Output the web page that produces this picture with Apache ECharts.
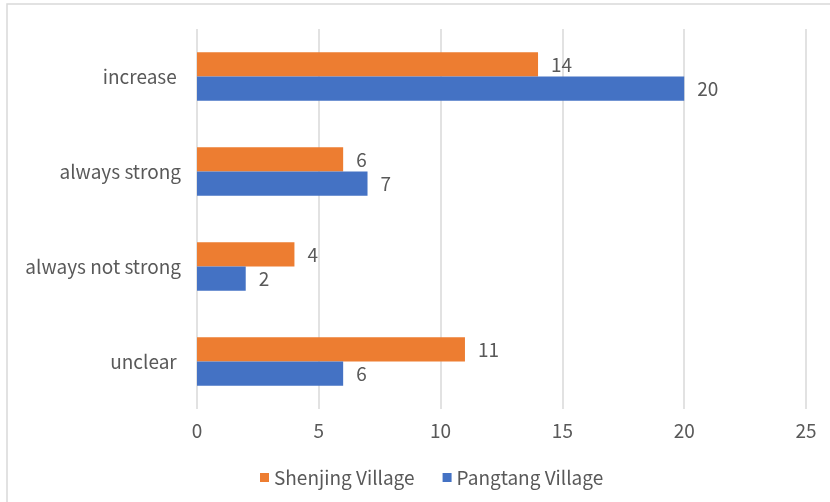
<!DOCTYPE html>
<html>
<head>
<meta charset="utf-8">
<script src="https://cdn.jsdelivr.net/npm/echarts@6/dist/echarts.min.js"></script>
<style>
  html, body { margin: 0; padding: 0; background: #fff; }
  #chart { width: 830px; height: 502px; }
</style>
</head>
<body>
<div id="chart"></div>
<script>
const categories = ['increase ', 'always strong', 'always not strong', 'unclear '];
const shenjing = [14, 6, 4, 11];
const pangtang = [20, 7, 2, 6];
const xTicks = { min: 0, max: 25, interval: 5 };

const FONT = '"Noto Sans CJK SC", "Noto Sans", sans-serif';
const TEXT = '#595959';
const SIZE = 19;

const chart = echarts.init(document.getElementById('chart'), null, { renderer: 'canvas' });
chart.setOption({
  animation: false,
  backgroundColor: '#fff',
  textStyle: { fontFamily: FONT },
  graphic: [{
    type: 'rect',
    shape: { x: 7, y: 4, width: 840, height: 520 },
    style: { fill: 'none', stroke: '#d9d9d9', lineWidth: 1.5 },
    silent: true
  }],
  legend: {
    left: 255,
    top: 463,
    itemWidth: 9,
    itemHeight: 9,
    itemGap: 28,
    icon: 'rect',
    textStyle: { color: TEXT, fontSize: SIZE, fontFamily: FONT },
    data: ['Shenjing Village', 'Pangtang Village']
  },
  grid: { left: 197, right: 24, top: 29, bottom: 93, containLabel: false },
  xAxis: {
    type: 'value',
    min: xTicks.min, max: xTicks.max, interval: xTicks.interval,
    axisLine: { show: false },
    axisTick: { show: false },
    axisLabel: { color: TEXT, fontSize: SIZE, margin: 12, fontFamily: FONT },
    splitLine: { lineStyle: { color: '#d9d9d9', width: 1.5 } }
  },
  yAxis: {
    type: 'category',
    inverse: true,
    data: categories,
    axisLine: { show: false },
    axisTick: { show: false },
    axisLabel: { color: TEXT, fontSize: SIZE, margin: 16, fontFamily: FONT }
  },
  series: [
    {
      name: 'Shenjing Village', type: 'bar', data: shenjing,
      itemStyle: { color: '#ED7D31' },
      barGap: '0%', barCategoryGap: '49%',
      label: { show: true, position: 'right', distance: 13, color: TEXT, fontSize: SIZE, fontFamily: FONT }
    },
    {
      name: 'Pangtang Village', type: 'bar', data: pangtang,
      itemStyle: { color: '#4472C4' },
      barGap: '0%', barCategoryGap: '49%',
      label: { show: true, position: 'right', distance: 13, color: TEXT, fontSize: SIZE, fontFamily: FONT }
    }
  ]
});
</script>
</body>
</html>
